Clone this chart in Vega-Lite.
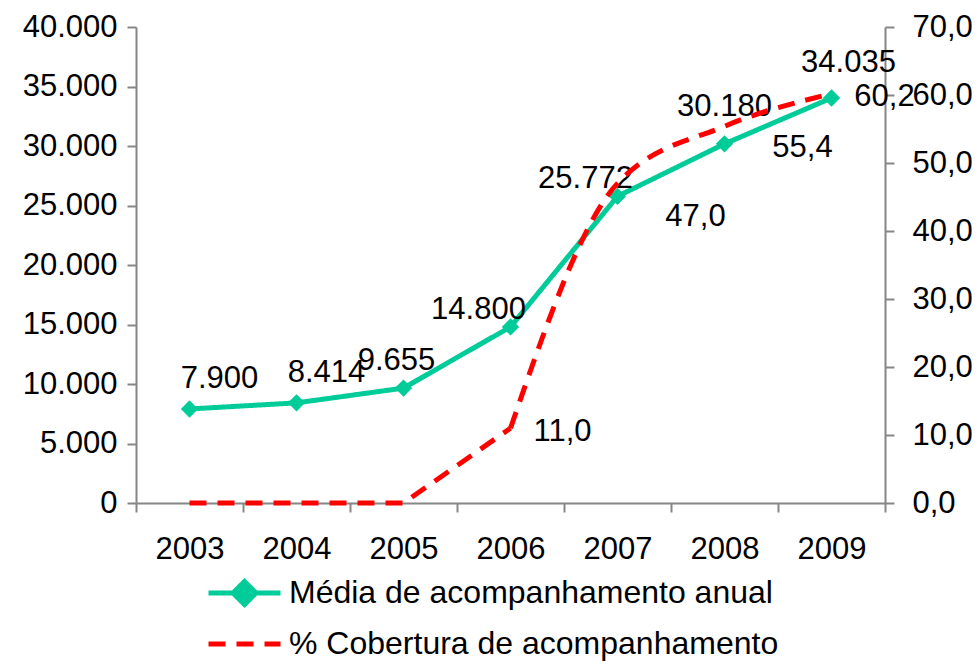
{
  "$schema": "https://vega.github.io/schema/vega-lite/v6.json",
  "width": 749,
  "height": 476,
  "autosize": {"type": "none"},
  "padding": {"left": 136, "top": 27, "right": 94, "bottom": 158},
  "background": "white",
  "data": {
    "values": [
      {"ano": "2003", "media": 7900, "cobertura": 0},
      {"ano": "2004", "media": 8414, "cobertura": 0},
      {"ano": "2005", "media": 9655, "cobertura": 0},
      {"ano": "2006", "media": 14800, "cobertura": 11.0},
      {"ano": "2007", "media": 25772, "cobertura": 47.0},
      {"ano": "2008", "media": 30180, "cobertura": 55.4},
      {"ano": "2009", "media": 34035, "cobertura": 60.2}
    ]
  },
  "encoding": {
    "x": {
      "field": "ano",
      "type": "ordinal",
      "bandPosition": 0.5,
      "scale": {"type": "band", "paddingInner": 0, "paddingOuter": 0},
      "axis": {"title": null, "labelAngle": 0, "tickBand": "extent", "labelPadding": 22, "orient": "bottom"}
    }
  },
  "layer": [
    {
      "encoding": {
        "y": {
          "field": "media",
          "type": "quantitative",
          "scale": {"domain": [0, 40000], "nice": false, "zero": true},
          "axis": {"title": null, "orient": "left", "values": [0, 5000, 10000, 15000, 20000, 25000, 30000, 35000, 40000], "format": ",.0f", "labelPadding": 10}
        }
      },
      "layer": [
        {
          "mark": {"type": "line", "strokeWidth": 5},
          "encoding": {
            "color": {"datum": "Média de acompanhamento anual", "type": "nominal", "scale": {"domain": ["Média de acompanhamento anual", "% Cobertura de acompanhamento"], "range": ["#00CC99", "#FF0000"]},
              "legend": {
                "title": null,
                "orient": "none",
                "legendX": 70,
                "legendY": 551,
                "direction": "vertical",
                "symbolType": "stroke",
                "symbolSize": 5184,
                "symbolStrokeWidth": 5,
                "clipHeight": 30,
                "rowPadding": 19,
                "labelOffset": 6,
                "encode": {
                  "symbols": {
                    "update": {
                      "shape": {"signal": "datum.value === 'Média de acompanhamento anual' ? 'M-1,0H1M0,-0.32L0.32,0L0,0.32L-0.32,0Z' : 'stroke'"},
                      "fill": {"signal": "datum.value === 'Média de acompanhamento anual' ? '#00CC99' : 'transparent'"}
                    }
                  }
                }
              }
            },
            "strokeDash": {"datum": "Média de acompanhamento anual", "type": "nominal", "scale": {"domain": ["Média de acompanhamento anual", "% Cobertura de acompanhamento"], "range": [[1, 0], [17, 11]]}, "legend": null}
          }
        },
        {
          "mark": {"type": "point", "shape": "diamond", "filled": true, "size": 300, "color": "#00CC99", "opacity": 1}
        },
        {
          "transform": [{"filter": "datum.ano === '2003' || datum.ano === '2004'"}],
          "mark": {"type": "text", "font": "Liberation Sans", "fontSize": 31, "color": "black", "align": "center", "baseline": "middle", "dx": 30, "dy": -30},
          "encoding": {"text": {"field": "media", "type": "quantitative", "format": ",.0f"}}
        },
        {
          "transform": [{"filter": "datum.ano === '2005'"}],
          "mark": {"type": "text", "font": "Liberation Sans", "fontSize": 31, "color": "black", "align": "center", "baseline": "middle", "dx": -7, "dy": -27},
          "encoding": {"text": {"field": "media", "type": "quantitative", "format": ",.0f"}}
        },
        {
          "transform": [{"filter": "datum.ano === '2006' || datum.ano === '2007'"}],
          "mark": {"type": "text", "font": "Liberation Sans", "fontSize": 31, "color": "black", "align": "center", "baseline": "middle", "dx": -32, "dy": -17},
          "encoding": {"text": {"field": "media", "type": "quantitative", "format": ",.0f"}}
        },
        {
          "transform": [{"filter": "datum.ano === '2008'"}],
          "mark": {"type": "text", "font": "Liberation Sans", "fontSize": 31, "color": "black", "align": "center", "baseline": "middle", "dx": 0, "dy": -37},
          "encoding": {"text": {"field": "media", "type": "quantitative", "format": ",.0f"}}
        },
        {
          "transform": [{"filter": "datum.ano === '2009'"}],
          "mark": {"type": "text", "font": "Liberation Sans", "fontSize": 31, "color": "black", "align": "center", "baseline": "middle", "dx": 17, "dy": -35},
          "encoding": {"text": {"field": "media", "type": "quantitative", "format": ",.0f"}}
        }
      ]
    },
    {
      "encoding": {
        "y": {
          "field": "cobertura",
          "type": "quantitative",
          "scale": {"domain": [0, 70], "nice": false, "zero": true},
          "axis": {"title": null, "orient": "right", "values": [0, 10, 20, 30, 40, 50, 60, 70], "format": ".1f", "labelPadding": 18}
        }
      },
      "layer": [
        {
          "transform": [{"filter": "datum.ano <= '2006'"}],
          "mark": {"type": "line", "strokeWidth": 5, "interpolate": "linear"},
          "encoding": {
            "color": {"datum": "% Cobertura de acompanhamento", "type": "nominal"},
            "strokeDash": {"datum": "% Cobertura de acompanhamento", "type": "nominal"}
          }
        },
        {
          "transform": [{"filter": "datum.ano >= '2006'"}],
          "mark": {"type": "line", "strokeWidth": 5, "interpolate": "monotone"},
          "encoding": {
            "color": {"datum": "% Cobertura de acompanhamento", "type": "nominal"},
            "strokeDash": {"datum": "% Cobertura de acompanhamento", "type": "nominal"}
          }
        },
        {
          "transform": [{"filter": "datum.ano === '2006'"}],
          "mark": {"type": "text", "font": "Liberation Sans", "fontSize": 31, "color": "black", "align": "center", "baseline": "middle", "dx": 52, "dy": 4},
          "encoding": {"text": {"field": "cobertura", "type": "quantitative", "format": ".1f"}}
        },
        {
          "transform": [{"filter": "datum.ano === '2007'"}],
          "mark": {"type": "text", "font": "Liberation Sans", "fontSize": 31, "color": "black", "align": "center", "baseline": "middle", "dx": 78, "dy": 34},
          "encoding": {"text": {"field": "cobertura", "type": "quantitative", "format": ".1f"}}
        },
        {
          "transform": [{"filter": "datum.ano === '2008'"}],
          "mark": {"type": "text", "font": "Liberation Sans", "fontSize": 31, "color": "black", "align": "center", "baseline": "middle", "dx": 78, "dy": 22},
          "encoding": {"text": {"field": "cobertura", "type": "quantitative", "format": ".1f"}}
        },
        {
          "transform": [{"filter": "datum.ano === '2009'"}],
          "mark": {"type": "text", "font": "Liberation Sans", "fontSize": 31, "color": "black", "align": "center", "baseline": "middle", "dx": 53, "dy": 3},
          "encoding": {"text": {"field": "cobertura", "type": "quantitative", "format": ".1f"}}
        }
      ]
    }
  ],
  "resolve": {"scale": {"y": "independent"}},
  "config": {
    "locale": {"number": {"decimal": ",", "thousands": ".", "grouping": [3], "currency": ["", ""]}},
    "view": {"stroke": null},
    "font": "Liberation Sans",
    "axis": {
      "grid": false,
      "labelFont": "Liberation Sans",
      "labelFontSize": 31,
      "labelColor": "black",
      "domainColor": "#868686",
      "domainWidth": 2,
      "tickColor": "#868686",
      "tickWidth": 2,
      "tickSize": 9
    },
    "legend": {
      "labelFont": "Liberation Sans",
      "labelFontSize": 32,
      "labelColor": "black",
      "labelLimit": 0
    }
  }
}
